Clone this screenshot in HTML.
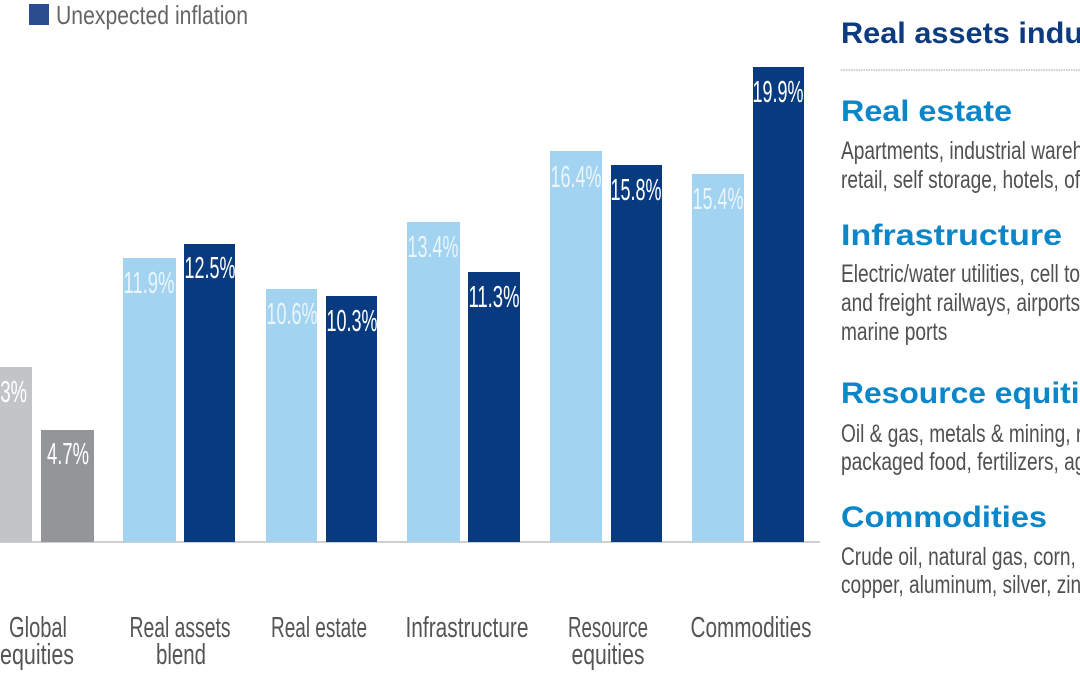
<!DOCTYPE html>
<html>
<head>
<meta charset="utf-8">
<style>
  html,body{margin:0;padding:0;background:#ffffff;}
  body{width:1080px;height:675px;overflow:hidden;}
  svg{display:block;}
</style>
</head>
<body>
<svg width="1080" height="675" viewBox="0 0 1080 675" xmlns="http://www.w3.org/2000/svg">
  <rect x="0" y="0" width="1080" height="675" fill="#ffffff"/>

  <!-- Legend -->
  <rect x="29" y="4" width="20" height="21" fill="#2b4c8e"/>
  <text x="56" y="24" font-family="Liberation Sans, sans-serif" font-size="26" fill="#666666" textLength="192" lengthAdjust="spacingAndGlyphs">Unexpected inflation</text>

  <!-- Baseline -->
  <line x1="0" y1="542" x2="820" y2="542" stroke="#cfcfcf" stroke-width="2"/>

  <!-- Bars -->
  <g>
    <rect x="-20" y="367" width="52" height="175" fill="#c2c4c8"/>
    <rect x="41" y="430" width="53" height="112" fill="#939598"/>

    <rect x="123" y="258" width="53" height="284" fill="#a2d3f1"/>
    <rect x="184" y="244" width="51" height="298" fill="#083a80"/>

    <rect x="266" y="289" width="51" height="253" fill="#a2d3f1"/>
    <rect x="326" y="296" width="51" height="246" fill="#083a80"/>

    <rect x="407" y="222" width="53" height="320" fill="#a2d3f1"/>
    <rect x="468" y="272" width="52" height="270" fill="#083a80"/>

    <rect x="550" y="151" width="52" height="391" fill="#a2d3f1"/>
    <rect x="611" y="165" width="51" height="377" fill="#083a80"/>

    <rect x="692" y="174" width="52" height="368" fill="#a2d3f1"/>
    <rect x="753" y="67" width="51" height="475" fill="#083a80"/>
  </g>

  <!-- Value labels -->
  <g font-family="Liberation Sans, sans-serif" font-size="31" text-anchor="middle">
    <text x="6" y="402" fill="#ffffff" textLength="42" lengthAdjust="spacingAndGlyphs">7.3%</text>
    <text x="68" y="464" fill="#ffffff" textLength="42" lengthAdjust="spacingAndGlyphs">4.7%</text>

    <text x="149" y="293" fill="#eaf5fc" textLength="51" lengthAdjust="spacingAndGlyphs">11.9%</text>
    <text x="210" y="278" fill="#ffffff" textLength="51" lengthAdjust="spacingAndGlyphs">12.5%</text>

    <text x="292" y="324" fill="#eaf5fc" textLength="51" lengthAdjust="spacingAndGlyphs">10.6%</text>
    <text x="352" y="331" fill="#ffffff" textLength="51" lengthAdjust="spacingAndGlyphs">10.3%</text>

    <text x="433" y="257" fill="#eaf5fc" textLength="51" lengthAdjust="spacingAndGlyphs">13.4%</text>
    <text x="494" y="307" fill="#ffffff" textLength="51" lengthAdjust="spacingAndGlyphs">11.3%</text>

    <text x="576" y="187" fill="#eaf5fc" textLength="51" lengthAdjust="spacingAndGlyphs">16.4%</text>
    <text x="636" y="200" fill="#ffffff" textLength="51" lengthAdjust="spacingAndGlyphs">15.8%</text>

    <text x="718" y="209" fill="#eaf5fc" textLength="51" lengthAdjust="spacingAndGlyphs">15.4%</text>
    <text x="778" y="102" fill="#ffffff" textLength="51" lengthAdjust="spacingAndGlyphs">19.9%</text>
  </g>

  <!-- Category labels -->
  <g font-family="Liberation Sans, sans-serif" font-size="29" fill="#555555" text-anchor="middle">
    <text x="38" y="637" textLength="58" lengthAdjust="spacingAndGlyphs">Global</text>
    <text x="37" y="664" textLength="74" lengthAdjust="spacingAndGlyphs">equities</text>

    <text x="180" y="637" textLength="101" lengthAdjust="spacingAndGlyphs">Real assets</text>
    <text x="181" y="664" textLength="50" lengthAdjust="spacingAndGlyphs">blend</text>

    <text x="319" y="637" textLength="96" lengthAdjust="spacingAndGlyphs">Real estate</text>

    <text x="467" y="637" textLength="123" lengthAdjust="spacingAndGlyphs">Infrastructure</text>

    <text x="608" y="637" textLength="80" lengthAdjust="spacingAndGlyphs">Resource</text>
    <text x="608" y="664" textLength="73" lengthAdjust="spacingAndGlyphs">equities</text>

    <text x="751" y="637" textLength="121" lengthAdjust="spacingAndGlyphs">Commodities</text>
  </g>

  <!-- Right panel -->
  <text x="841" y="43" font-family="Liberation Sans, sans-serif" font-weight="bold" font-size="30" fill="#0c3b7f" textLength="324" lengthAdjust="spacingAndGlyphs">Real assets industries</text>
  <line x1="841" y1="70" x2="1080" y2="70" stroke="#bdbdbd" stroke-width="1.5" stroke-dasharray="1.5 1"/>

  <g font-family="Liberation Sans, sans-serif" font-weight="bold" font-size="30" fill="#0a86c9">
    <text x="841" y="121" textLength="171" lengthAdjust="spacingAndGlyphs">Real estate</text>
    <text x="841" y="245" textLength="221" lengthAdjust="spacingAndGlyphs">Infrastructure</text>
    <text x="841" y="403" textLength="274" lengthAdjust="spacingAndGlyphs">Resource equities</text>
    <text x="841" y="527" textLength="206" lengthAdjust="spacingAndGlyphs">Commodities</text>
  </g>

  <g font-family="Liberation Sans, sans-serif" font-size="25" fill="#505050">
    <text transform="translate(841,159) scale(0.765,1)">Apartments, industrial warehouses,</text>
    <text transform="translate(841,188) scale(0.765,1)">retail, self storage, hotels, offices</text>

    <text transform="translate(841,282) scale(0.765,1)">Electric/water utilities, cell towers,</text>
    <text transform="translate(841,311) scale(0.765,1)">and freight railways, airports, toll roads,</text>
    <text transform="translate(841,340) scale(0.765,1)">marine ports</text>

    <text transform="translate(841,442) scale(0.765,1)">Oil &amp; gas, metals &amp; mining, renewables,</text>
    <text transform="translate(841,470) scale(0.765,1)">packaged food, fertilizers, agriculture</text>

    <text transform="translate(841,565) scale(0.765,1)">Crude oil, natural gas, corn, wheat,</text>
    <text transform="translate(841,593) scale(0.765,1)">copper, aluminum, silver, zinc</text>
  </g>
</svg>
</body>
</html>
